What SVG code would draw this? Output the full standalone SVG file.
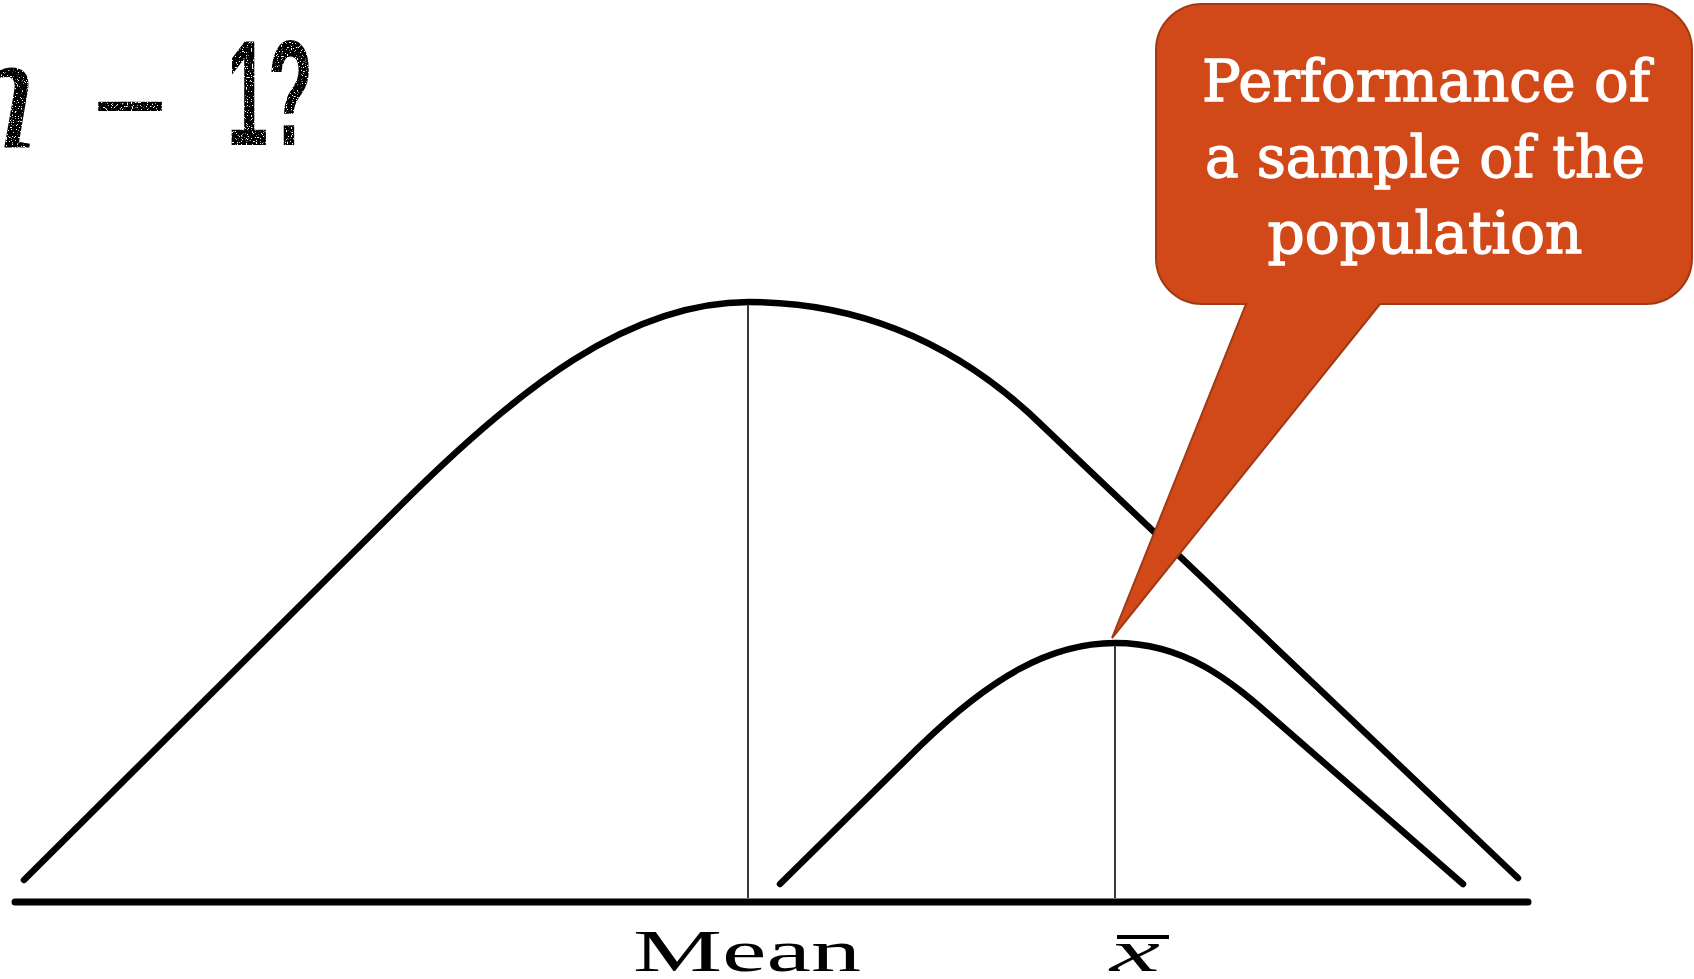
<svg xmlns="http://www.w3.org/2000/svg" width="1694" height="979" viewBox="0 0 1694 979">
  <style>
    .curve { fill: none; stroke: #000; stroke-width: 6.5; stroke-linecap: round; stroke-linejoin: round; }
    .axis { fill: none; stroke: #000; stroke-width: 7; stroke-linecap: round; }
    .ref { fill: none; stroke: #222; stroke-width: 1.8; }
    .callout { fill: #D14918; stroke: #A03A14; stroke-width: 2; }
    .ctext { fill: #fff; stroke: #fff; stroke-width: 1.3; font-family: "DejaVu Serif", "Liberation Serif", serif; font-size: 58px; text-anchor: middle; }
    .label { fill: #000; font-family: "Liberation Serif", "DejaVu Serif", serif; font-size: 60px; }
    .title { fill: #000; }
  </style>
  <defs>
    <filter id="grunge" x="0" y="0" width="100%" height="100%">
      <feTurbulence type="fractalNoise" baseFrequency="0.8" numOctaves="1" seed="4" result="noise"/>
      <feColorMatrix in="noise" type="matrix" values="0 0 0 0 0  0 0 0 0 0  0 0 0 0 0  0 0 0 -14 9.4" result="mask"/>
      <feComposite in="SourceGraphic" in2="mask" operator="in"/>
    </filter>
  </defs>
  <rect width="1694" height="979" fill="#fff"/>

  <g id="title" class="title" filter="url(#grunge)">
    <text x="-48" y="147" font-family="Liberation Serif, serif" font-style="italic" font-size="170">n</text>
    <text x="91" y="150" font-family="Liberation Serif, serif" font-weight="bold" font-size="132" textLength="78" lengthAdjust="spacingAndGlyphs">−</text>
    <text x="227" y="145" font-family="Liberation Sans, Arial, sans-serif" font-weight="bold" font-size="150" textLength="86" lengthAdjust="spacingAndGlyphs">1?</text>
  </g>

  <g id="axis">
    <line class="axis" x1="15" y1="902" x2="1528" y2="902"/>
  </g>

  <g id="population-curve">
    <path class="curve" d="M24,880 L400,506 C520,386 630,302 749,302 C870,302 960,350 1030,414 L1518,878"/>
  </g>

  <g id="sample-curve">
    <path class="curve" d="M780,884 L920,746 C990,678 1050,643 1115,643 C1185,643 1230,680 1275,720 L1463,884"/>
  </g>

  <g id="connectors">
    <line class="ref" x1="748" y1="304" x2="748" y2="898"/>
    <line class="ref" x1="1115" y1="645" x2="1115" y2="898"/>
  </g>

  <g id="label-mean">
    <text class="label" x="633" y="971" textLength="228" lengthAdjust="spacingAndGlyphs">Mean</text>
  </g>

  <g id="label-xbar">
    <line x1="1117" y1="937" x2="1169" y2="937" stroke="#000" stroke-width="4"/>
    <text class="label" x="1110" y="971" font-style="italic" textLength="50" lengthAdjust="spacingAndGlyphs">x</text>
  </g>

  <g id="callout">
    <path class="callout" d="M1202,4 H1646 A46,46 0 0 1 1692,50 V258 A46,46 0 0 1 1646,304 H1380 L1112,638 L1246,304 H1202 A46,46 0 0 1 1156,258 V50 A46,46 0 0 1 1202,4 Z"/>
    <text class="ctext" x="1426" y="101" textLength="448" lengthAdjust="spacingAndGlyphs">Performance of</text>
    <text class="ctext" x="1425" y="177" textLength="440" lengthAdjust="spacingAndGlyphs">a sample of the</text>
    <text class="ctext" x="1425" y="253" textLength="315" lengthAdjust="spacingAndGlyphs">population</text>
  </g>
</svg>
